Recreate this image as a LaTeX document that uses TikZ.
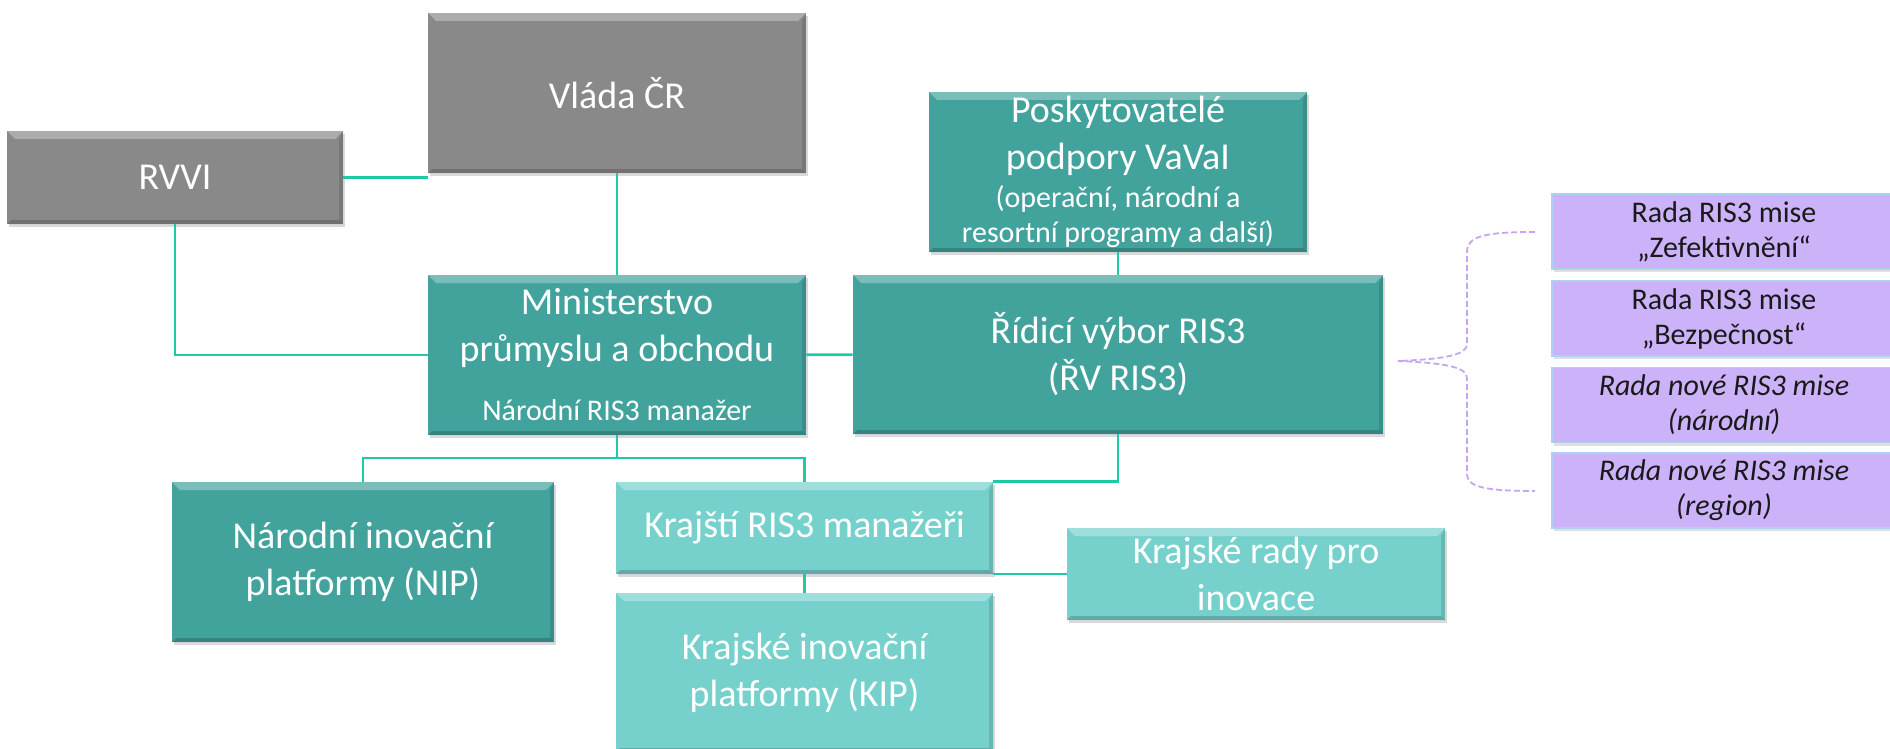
\documentclass[tikz,border=0pt]{standalone}
\usepackage{fontspec}
\setmainfont{Carlito}
\usetikzlibrary{shadows}
\definecolor{boxgray}{HTML}{898989}
\definecolor{darkteal}{HTML}{42A29C}
\definecolor{lightteal}{HTML}{76D1CD}
\definecolor{misepurple}{HTML}{CCB3F9}
\definecolor{miseborder}{HTML}{A9D3F0}
\definecolor{linkteal}{HTML}{1ECAA6}
\definecolor{bracepurple}{HTML}{C6A5F3}
\newcommand{\bigtxt}{\fontsize{19}{23.5}\selectfont}
\newcommand{\smalltxt}{\fontsize{15}{17.5}\selectfont}
\tikzstyle{Bevel}=[path picture={
  \fill[white, opacity=0.3] (path picture bounding box.north west) -- (path picture bounding box.north east)
    -- ([xshift=-4pt,yshift=-4pt]path picture bounding box.north east) -- ([xshift=4pt,yshift=-4pt]path picture bounding box.north west) -- cycle;
  \fill[black, opacity=0.18] (path picture bounding box.south west) -- (path picture bounding box.south east)
    -- ([xshift=-2pt,yshift=2pt]path picture bounding box.south east) -- ([xshift=2pt,yshift=2pt]path picture bounding box.south west) -- cycle;
  \fill[black, opacity=0.12] (path picture bounding box.north east) -- (path picture bounding box.south east)
    -- ([xshift=-2pt,yshift=2pt]path picture bounding box.south east) -- ([xshift=-2pt,yshift=-4pt]path picture bounding box.north east) -- cycle;
}]
\tikzstyle{OrgNode}=[rectangle, inner sep=0pt, align=center, text=white, font=\bigtxt,
  minimum width=189pt, minimum height=80pt, Bevel,
  drop shadow={shadow xshift=0.8pt, shadow yshift=-1.5pt, opacity=0.3}]
\tikzstyle{GrayNode}=[OrgNode, fill=boxgray]
\tikzstyle{DarkNode}=[OrgNode, fill=darkteal]
\tikzstyle{LightNode}=[OrgNode, fill=lightteal]
\tikzstyle{MiseNode}=[rectangle, inner sep=0pt, align=center, font=\smalltxt, text=black!90,
  fill=misepurple, draw=miseborder, line width=0.8pt, minimum width=172pt, minimum height=37.5pt,
  drop shadow={shadow xshift=0.8pt, shadow yshift=-1.5pt, opacity=0.25}]
\tikzstyle{Link}=[draw=linkteal, line width=1.4pt]
\tikzstyle{Brace}=[draw=bracepurple, line width=0.9pt, dash pattern=on 3pt off 1.5pt]

\begin{document}
\begin{tikzpicture}[x=0.5pt,y=-0.5pt]
\useasboundingbox (0,0) rectangle (1890,749);
\clip (0,0) rectangle (1890,749);

\node[GrayNode, minimum width=168pt, minimum height=46.5pt](RVVI) at (175,177.5) {RVVI};
\node[GrayNode](Vlada) at (617,93) {Vláda ČR};
\node[DarkNode](Posk) at (1118,172) {Poskytovatelé\\podpory VaVaI\\[-4.5pt]{\smalltxt (operační, národní a}\\[-6pt]{\smalltxt resortní programy a další)}};
\node[DarkNode](MPO) at (617,355) {Ministerstvo\\průmyslu a obchodu\\[6pt]{\smalltxt Národní RIS3 manažer}};
\node[DarkNode, minimum width=265pt, minimum height=79.5pt](RV) at (1118,354.5) {Řídicí výbor RIS3\\(ŘV RIS3)};
\node[DarkNode, minimum width=191pt](NIP) at (363,562) {Národní inovační\\platformy (NIP)};
\node[LightNode, minimum width=188.5pt, minimum height=46pt](KRM) at (804.5,528) {Krajští RIS3 manažeři};
\node[LightNode, minimum width=188.5pt, minimum height=79.5pt](KIP) at (804.5,672.5) {Krajské inovační\\platformy (KIP)};
\node[LightNode, minimum height=46pt](KRR) at (1256,574) {Krajské rady pro\\inovace};

\node[MiseNode](Mise1) at (1724,231.5) {Rada RIS3 mise\\„Zefektivnění“};
\node[MiseNode](Mise2) at (1724,318.5) {Rada RIS3 mise\\„Bezpečnost“};
\node[MiseNode, font=\smalltxt\itshape](Mise3) at (1724,405) {Rada nové RIS3 mise\\(národní)};
\node[MiseNode, font=\smalltxt\itshape](Mise4) at (1724,490.5) {Rada nové RIS3 mise\\(region)};

\coordinate (fork) at (617,458);
\coordinate (BraceTop) at (1535,232);
\coordinate (BraceTip) at (1398,361);
\coordinate (BraceBot) at (1535,491);

\draw[Link](RVVI.east) -- (RVVI.east -| Vlada.west);
\draw[Link](RVVI.south) |- (MPO.west);
\draw[Link](Vlada) -- (MPO);
\draw[Link](MPO) -- (RV);
\draw[Link](Posk) -- (RV);
\draw[Link](MPO.south) -- (fork) -| (NIP.north);
\draw[Link](fork) -| (KRM.north);
\draw[Link](RV.south) |- (KRM.north east);
\draw[Link](KRM) -- (KIP);
\draw[Link](KRR.west -| KRM.east) -- (KRR.west);

% brace to the mission boards
\draw[Brace](BraceTop) .. controls (1485,232) and (1467,236) .. (1467,252) -- (1467,344)
  .. controls (1467,355) and (1445,359) .. (BraceTip)
  .. controls (1445,363) and (1467,367) .. (1467,378) -- (1467,474)
  .. controls (1467,487) and (1485,491) .. (BraceBot);
\end{tikzpicture}
\end{document}
